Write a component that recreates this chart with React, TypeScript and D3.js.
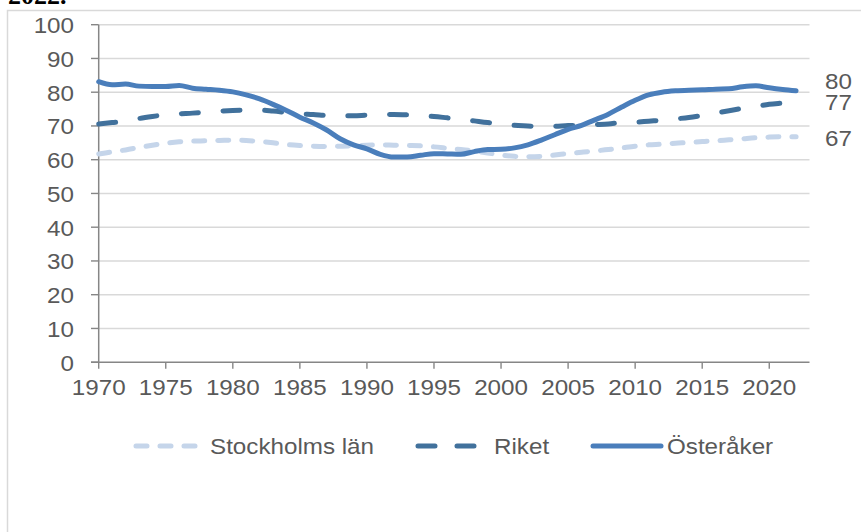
import React from "react";
import * as d3 from "d3";

const years = [1970,1971,1972,1973,1974,1975,1976,1977,1978,1979,1980,1981,1982,1983,1984,1985,1986,1987,1988,1989,1990,1991,1992,1993,1994,1995,1996,1997,1998,1999,2000,2001,2002,2003,2004,2005,2006,2007,2008,2009,2010,2011,2012,2013,2014,2015,2016,2017,2018,2019,2020,2021,2022];

const stockholm = [61.7,62.3,62.9,63.6,64.3,64.9,65.3,65.5,65.6,65.7,65.8,65.7,65.4,65.0,64.5,64.2,64.0,63.9,64.0,64.1,64.3,64.4,64.3,64.2,64.1,63.8,63.4,63.0,62.6,62.0,61.4,61.0,60.9,61.0,61.4,61.8,62.2,62.6,63.0,63.5,64.0,64.4,64.6,64.9,65.1,65.4,65.6,65.9,66.2,66.5,66.7,66.8,66.8];

const riket = [70.6,71.0,71.4,72.2,72.8,73.3,73.6,73.8,74.1,74.4,74.6,74.7,74.7,74.4,74.0,73.6,73.4,73.1,73.0,73.0,73.2,73.3,73.4,73.3,73.1,72.8,72.4,72.0,71.5,71.0,70.6,70.2,70.0,69.8,69.9,70.1,70.2,70.4,70.6,71.0,71.1,71.4,71.7,72.1,72.5,73.1,73.8,74.5,75.2,75.8,76.4,76.8,77.2];

const osteraker = [83.1,82.2,82.4,81.8,81.7,81.7,82.0,81.2,80.9,80.6,80.1,79.2,78.0,76.4,74.6,72.6,70.9,68.8,66.2,64.4,63.2,61.6,60.8,60.8,61.3,61.8,61.7,61.6,62.4,63.0,63.1,63.5,64.4,65.8,67.4,69.0,70.2,71.8,73.5,75.6,77.6,79.2,80.0,80.4,80.6,80.7,80.9,81.0,81.6,81.9,81.3,80.8,80.4];

const yTicks = [0,10,20,30,40,50,60,70,80,90,100];
const xTicks = [1970,1975,1980,1985,1990,1995,2000,2005,2010,2015,2020];
const endLabels = ["80", "77", "67"];
const seriesNames = ["Stockholms län", "Riket", "Österåker"];

const FONT = "'Liberation Sans', Arial, sans-serif";
const TXT = "#595959";

export default function App() {
  const x = d3.scaleLinear().domain([1970, 2023]).range([98.7, 809.5]);
  const y = d3.scaleLinear().domain([0, 100]).range([362.2, 24.7]);
  const mk = (vals: number[]) =>
    d3.line<number>().x((_, i) => x(years[i])).y((v) => y(v)).curve(d3.curveMonotoneX)(vals) || "";

  const series = [
    { name: seriesNames[0], vals: stockholm, color: "#c5d5ea", dash: "11 13", w: 5 },
    { name: seriesNames[1], vals: riket, color: "#41719c", dash: "17 24.7", w: 5 },
    { name: seriesNames[2], vals: osteraker, color: "#4a7ebb", dash: "", w: 5 },
  ];

  const endY = [89.3, 110, 146];
  const T = (props: any) => (
    <text
      transform={`translate(${props.x},${props.y}) scale(1.1,1)`}
      textAnchor={props.anchor || "start"}
      fontFamily={FONT}
      fontSize={22}
      fill={TXT}
    >
      {props.children}
    </text>
  );

  return (
    <svg width={861} height={532} style={{ position: "absolute", left: 0, top: 0, background: "#fff" }}>
      <text x={8} y={4} fontFamily="'Liberation Serif', serif" fontWeight="bold" fontSize={26} fill="#000">2022.</text>
      <rect x={7.5} y={10.5} width={900} height={600} fill="none" stroke="#d9d9d9" strokeWidth={1.5} />
      {yTicks.map((t) => (
        <g key={t}>
          {t > 0 && <line x1={98.7} x2={809.5} y1={y(t)} y2={y(t)} stroke="#d9d9d9" strokeWidth={1.4} />}
          <line x1={91} x2={98.7} y1={y(t)} y2={y(t)} stroke="#868686" strokeWidth={1.4} />
          <T x={74} y={y(t) + 8.3} anchor="end">{t}</T>
        </g>
      ))}
      <line x1={98.7} x2={98.7} y1={y(100)} y2={y(0)} stroke="#868686" strokeWidth={1.5} />
      <line x1={91} x2={809.5} y1={y(0)} y2={y(0)} stroke="#868686" strokeWidth={1.5} />
      {xTicks.map((t) => (
        <g key={t}>
          <line x1={x(t)} x2={x(t)} y1={y(0)} y2={y(0) + 6.5} stroke="#868686" strokeWidth={1.4} />
          <T x={x(t)} y={395} anchor="middle">{t}</T>
        </g>
      ))}
      {series.map((s) => (
        <path key={s.name} d={mk(s.vals)} fill="none" stroke={s.color} strokeWidth={s.w}
          strokeDasharray={s.dash || undefined} strokeLinecap="round" strokeLinejoin="round" />
      ))}
      {endLabels.map((l, i) => (
        <T key={l} x={825} y={endY[i]}>{l}</T>
      ))}
      {/* legend */}
      <g>
        <line x1={136} x2={196} y1={446} y2={446} stroke={series[0].color} strokeWidth={5} strokeDasharray="11 13" strokeLinecap="round" />
        <T x={210} y={454}>{seriesNames[0]}</T>
        <line x1={418} x2={479} y1={446} y2={446} stroke={series[1].color} strokeWidth={5} strokeDasharray="17 22" strokeLinecap="round" />
        <T x={494} y={454}>{seriesNames[1]}</T>
        <line x1={593} x2={661} y1={446} y2={446} stroke={series[2].color} strokeWidth={5} strokeLinecap="round" />
        <T x={667} y={454}>{seriesNames[2]}</T>
      </g>
    </svg>
  );
}
